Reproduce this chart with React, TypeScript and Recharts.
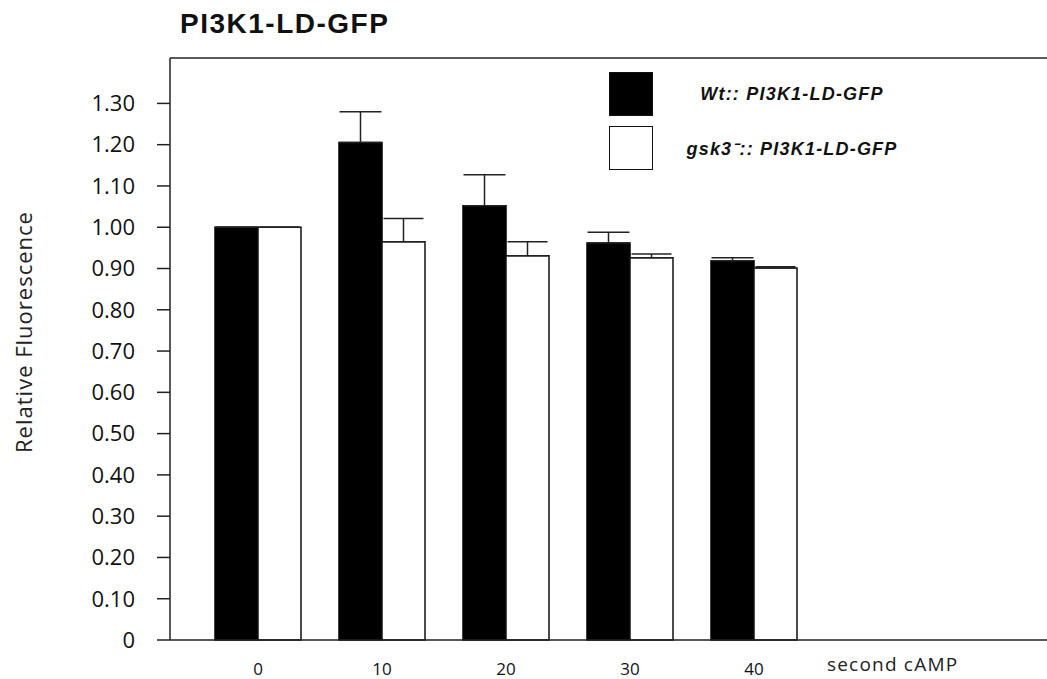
import { BarChart, Bar, XAxis, YAxis, ErrorBar, Legend, ReferenceLine } from "recharts";

const times = ["0", "10", "20", "30", "40"];
const wtValues = [1.0, 1.205, 1.052, 0.962, 0.919];
const wtErrors = [0, 0.075, 0.075, 0.026, 0.007];
const gskValues = [1.0, 0.965, 0.931, 0.926, 0.901];
const gskErrors = [0, 0.056, 0.034, 0.009, 0.003];
const yTicks = [0, 0.1, 0.2, 0.3, 0.4, 0.5, 0.6, 0.7, 0.8, 0.9, 1.0, 1.1, 1.2, 1.3];
const yMax = 1.41;

const data = times.map((t, i) => ({
  time: t,
  wt: wtValues[i],
  wtErr: [0, wtErrors[i]],
  gsk: gskValues[i],
  gskErr: [0, gskErrors[i]],
}));

const fmtY = (v: number) => (v === 0 ? "0" : v.toFixed(2));

function LegendBox({ payload }: any) {
  return (
    <div style={{ display: "flex", flexDirection: "column", gap: 10 }}>
      {(payload || []).map((p: any) => (
        <div key={p.value} style={{ display: "flex", alignItems: "center" }}>
          <div
            style={{
              width: 42,
              height: 42,
              background: p.color,
              border: "1.5px solid #111",
            }}
          />
          <div
            style={{
              width: 258,
              marginLeft: 10,
              textAlign: "center",
              fontFamily: "'Liberation Sans', Arial, sans-serif",
              fontWeight: 700,
              fontStyle: "italic",
              fontSize: 18,
              letterSpacing: 1.2,
              color: "#111",
            }}
          >
            {p.value}
          </div>
        </div>
      ))}
    </div>
  );
}

export default function App() {
  return (
    <div style={{ position: "absolute", left: 0, top: 0, width: 1047, height: 679, background: "#fff" }}>
      <BarChart
        width={1047}
        height={679}
        data={data}
        margin={{ top: 58, right: 0, left: 0, bottom: 0 }}
        barGap={0}
      >
        <XAxis
          dataKey="time"
          height={39}
          padding={{ left: 26, right: 231 }}
          axisLine={{ stroke: "#222", strokeWidth: 1.5 }}
          tickLine={false}
          tickMargin={17}
          tick={{ fontSize: 17, fill: "#111", fontFamily: "'Open Sans', sans-serif" }}
        />
        <YAxis
          width={170}
          domain={[0, yMax]}
          ticks={yTicks}
          tickFormatter={fmtY}
          interval={0}
          axisLine={{ stroke: "#222", strokeWidth: 1.5 }}
          tickLine={{ stroke: "#222", strokeWidth: 1.5 }}
          tickSize={13}
          tickMargin={22}
          tick={{ fontSize: 22, fill: "#111", fontFamily: "'Open Sans', sans-serif" }}
        />
        <ReferenceLine y={yMax} stroke="#222" strokeWidth={1.5} />
        <Legend
          layout="horizontal"
          verticalAlign="middle"
          align="center"
          content={<LegendBox />}
          wrapperStyle={{ left: 609, top: 72, width: 330 }}
        />
        <Bar
          dataKey="wt"
          name="Wt:: PI3K1-LD-GFP"
          fill="#000"
          stroke="#000"
          strokeWidth={1.5}
          barSize={43}
          isAnimationActive={false}
        >
          <ErrorBar dataKey="wtErr" width={21} stroke="#222" strokeWidth={1.5} />
        </Bar>
        <Bar
          dataKey="gsk"
          name="gsk3⁻:: PI3K1-LD-GFP"
          fill="#fff"
          stroke="#111"
          strokeWidth={1.5}
          barSize={43}
          isAnimationActive={false}
        >
          <ErrorBar dataKey="gskErr" width={20} stroke="#222" strokeWidth={1.5} />
        </Bar>
      </BarChart>
      <svg
        width={1047}
        height={679}
        style={{ position: "absolute", left: 0, top: 0, pointerEvents: "none" }}
      >
        <text
          x={180}
          y={33}
          fontFamily="'Liberation Sans', Arial, sans-serif"
          fontWeight={700}
          fontSize={28}
          letterSpacing={1.5}
          fill="#111"
        >
          PI3K1-LD-GFP
        </text>
        <text
          x={23}
          y={332}
          transform="rotate(-90 23 332)"
          textAnchor="middle"
          dominantBaseline="central"
          fontFamily="'Open Sans', sans-serif"
          fontSize={22}
          letterSpacing={1}
          fill="#222"
        >
          Relative Fluorescence
        </text>
        <text
          x={827}
          y={671}
          fontFamily="'Open Sans', sans-serif"
          fontSize={19}
          letterSpacing={1.2}
          fill="#222"
        >
          second cAMP
        </text>
      </svg>
    </div>
  );
}
